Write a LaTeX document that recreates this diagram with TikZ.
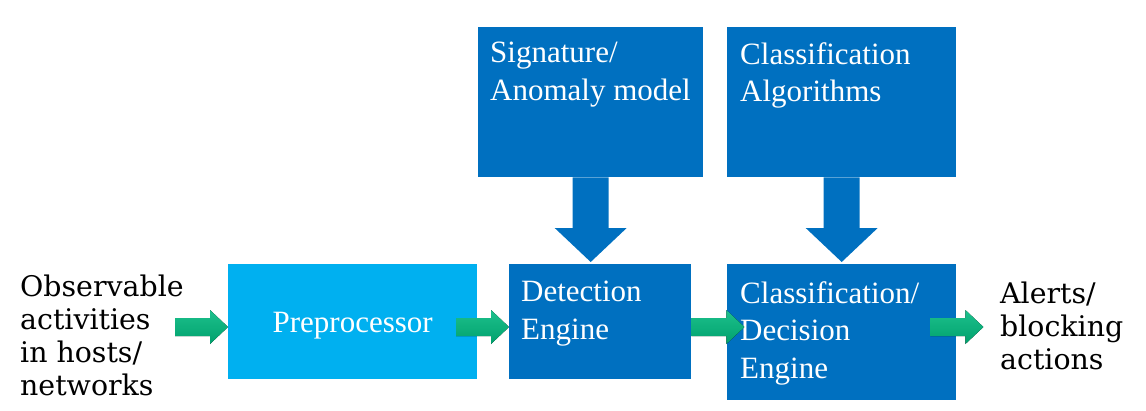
\documentclass[tikz,border=0pt]{standalone}
\usepackage{fontspec}
\setmainfont{Liberation Serif}
\newfontfamily\sidefont{DejaVu Serif}
\definecolor{skyblue}{HTML}{00B0F0}
\definecolor{deepblue}{HTML}{0070C0}
\definecolor{arrowtop}{HTML}{1DC18D}
\definecolor{arrowbot}{HTML}{00A06C}
\usetikzlibrary{calc}

\tikzset{
  block/.style={fill=#1, draw=none, inner sep=0pt, anchor=north west},
  blocktext/.style={text=white, font=\fontsize{31}{37.5}\selectfont,
                    align=left, inner sep=0pt, anchor=north west},
  sidetext/.style={font=\sidefont\fontsize{28.4}{33}\selectfont,
                   align=left, inner sep=0pt, anchor=north west},
  greenarrow/.style={top color=arrowtop, bottom color=arrowbot, draw=none},
}

% fat arrow to the right: from #1 to tip #2
\newcommand\rightblock[2]{%
  \fill[greenarrow] ($(#1)+(0,-9)$) -- ($(#2)+(-18,-9)$) -- ($(#2)+(-18,-17)$)
    -- (#2) -- ($(#2)+(-18,17)$) -- ($(#2)+(-18,9)$) -- ($(#1)+(0,9)$) -- cycle;}
% fat arrow downwards: from #1 to tip #2
\newcommand\downblock[2]{%
  \fill[deepblue] ($(#1)+(-18,0)$) -- ($(#2)+(-18,-34)$) -- ($(#2)+(-36,-34)$)
    -- (#2) -- ($(#2)+(36,-34)$) -- ($(#2)+(18,-34)$) -- ($(#1)+(18,0)$) -- cycle;}

\begin{document}
\begin{tikzpicture}[x=1pt,y=-1pt]
\useasboundingbox (0,0) rectangle (1146,410);

% Boxes
\node[block=skyblue,  minimum width=249pt, minimum height=115pt] (prep) at (228,264) {};
\node[block=deepblue, minimum width=182pt, minimum height=115pt] (det)  at (509,264) {};
\node[block=deepblue, minimum width=229pt, minimum height=136pt] (dec)  at (727,264) {};
\node[block=deepblue, minimum width=225pt, minimum height=150pt] (sig)  at (478,27) {};
\node[block=deepblue, minimum width=229pt, minimum height=150pt] (alg)  at (727,27) {};

% Box texts
\node[blocktext, anchor=center] (preptext) at ($(prep.center)+(0,4)$) {Preprocessor};
\node[blocktext] (dettext) at (521,281) {Detection\\Engine};
\node[blocktext] (dectext) at (740,281) {Classification/\\Decision\\Engine};
\node[blocktext] (sigtext) at (490,42) {Signature/\\Anomaly model};
\node[blocktext] (algtext) at (740,42) {Classification\\Algorithms};

% Side texts
\node[sidetext] (obs)    at (20,275)  {Observable\\activities\\in hosts/\\networks};
\node[sidetext] (alerts) at (1000,282) {Alerts/\\blocking\\actions};

% Down arrows
\downblock{sig.south}{$(sig.south |- det.north)+(0,-2)$}
\downblock{alg.south}{$(alg.south |- dec.north)+(0,-2)$}

% Green arrows
\coordinate (flow) at (175,327);
\coordinate (a1) at (prep.west |- flow);
\coordinate (b1) at (det.west |- flow);
\coordinate (c0) at (det.east |- flow);
\coordinate (d0) at ($(dec.east |- flow)+(-26,0)$);
\rightblock{flow}{a1}
\rightblock{$(b1)+(-53,0)$}{b1}
\rightblock{c0}{$(c0)+(53,0)$}
\rightblock{d0}{$(d0)+(53,0)$}
\end{tikzpicture}
\end{document}
